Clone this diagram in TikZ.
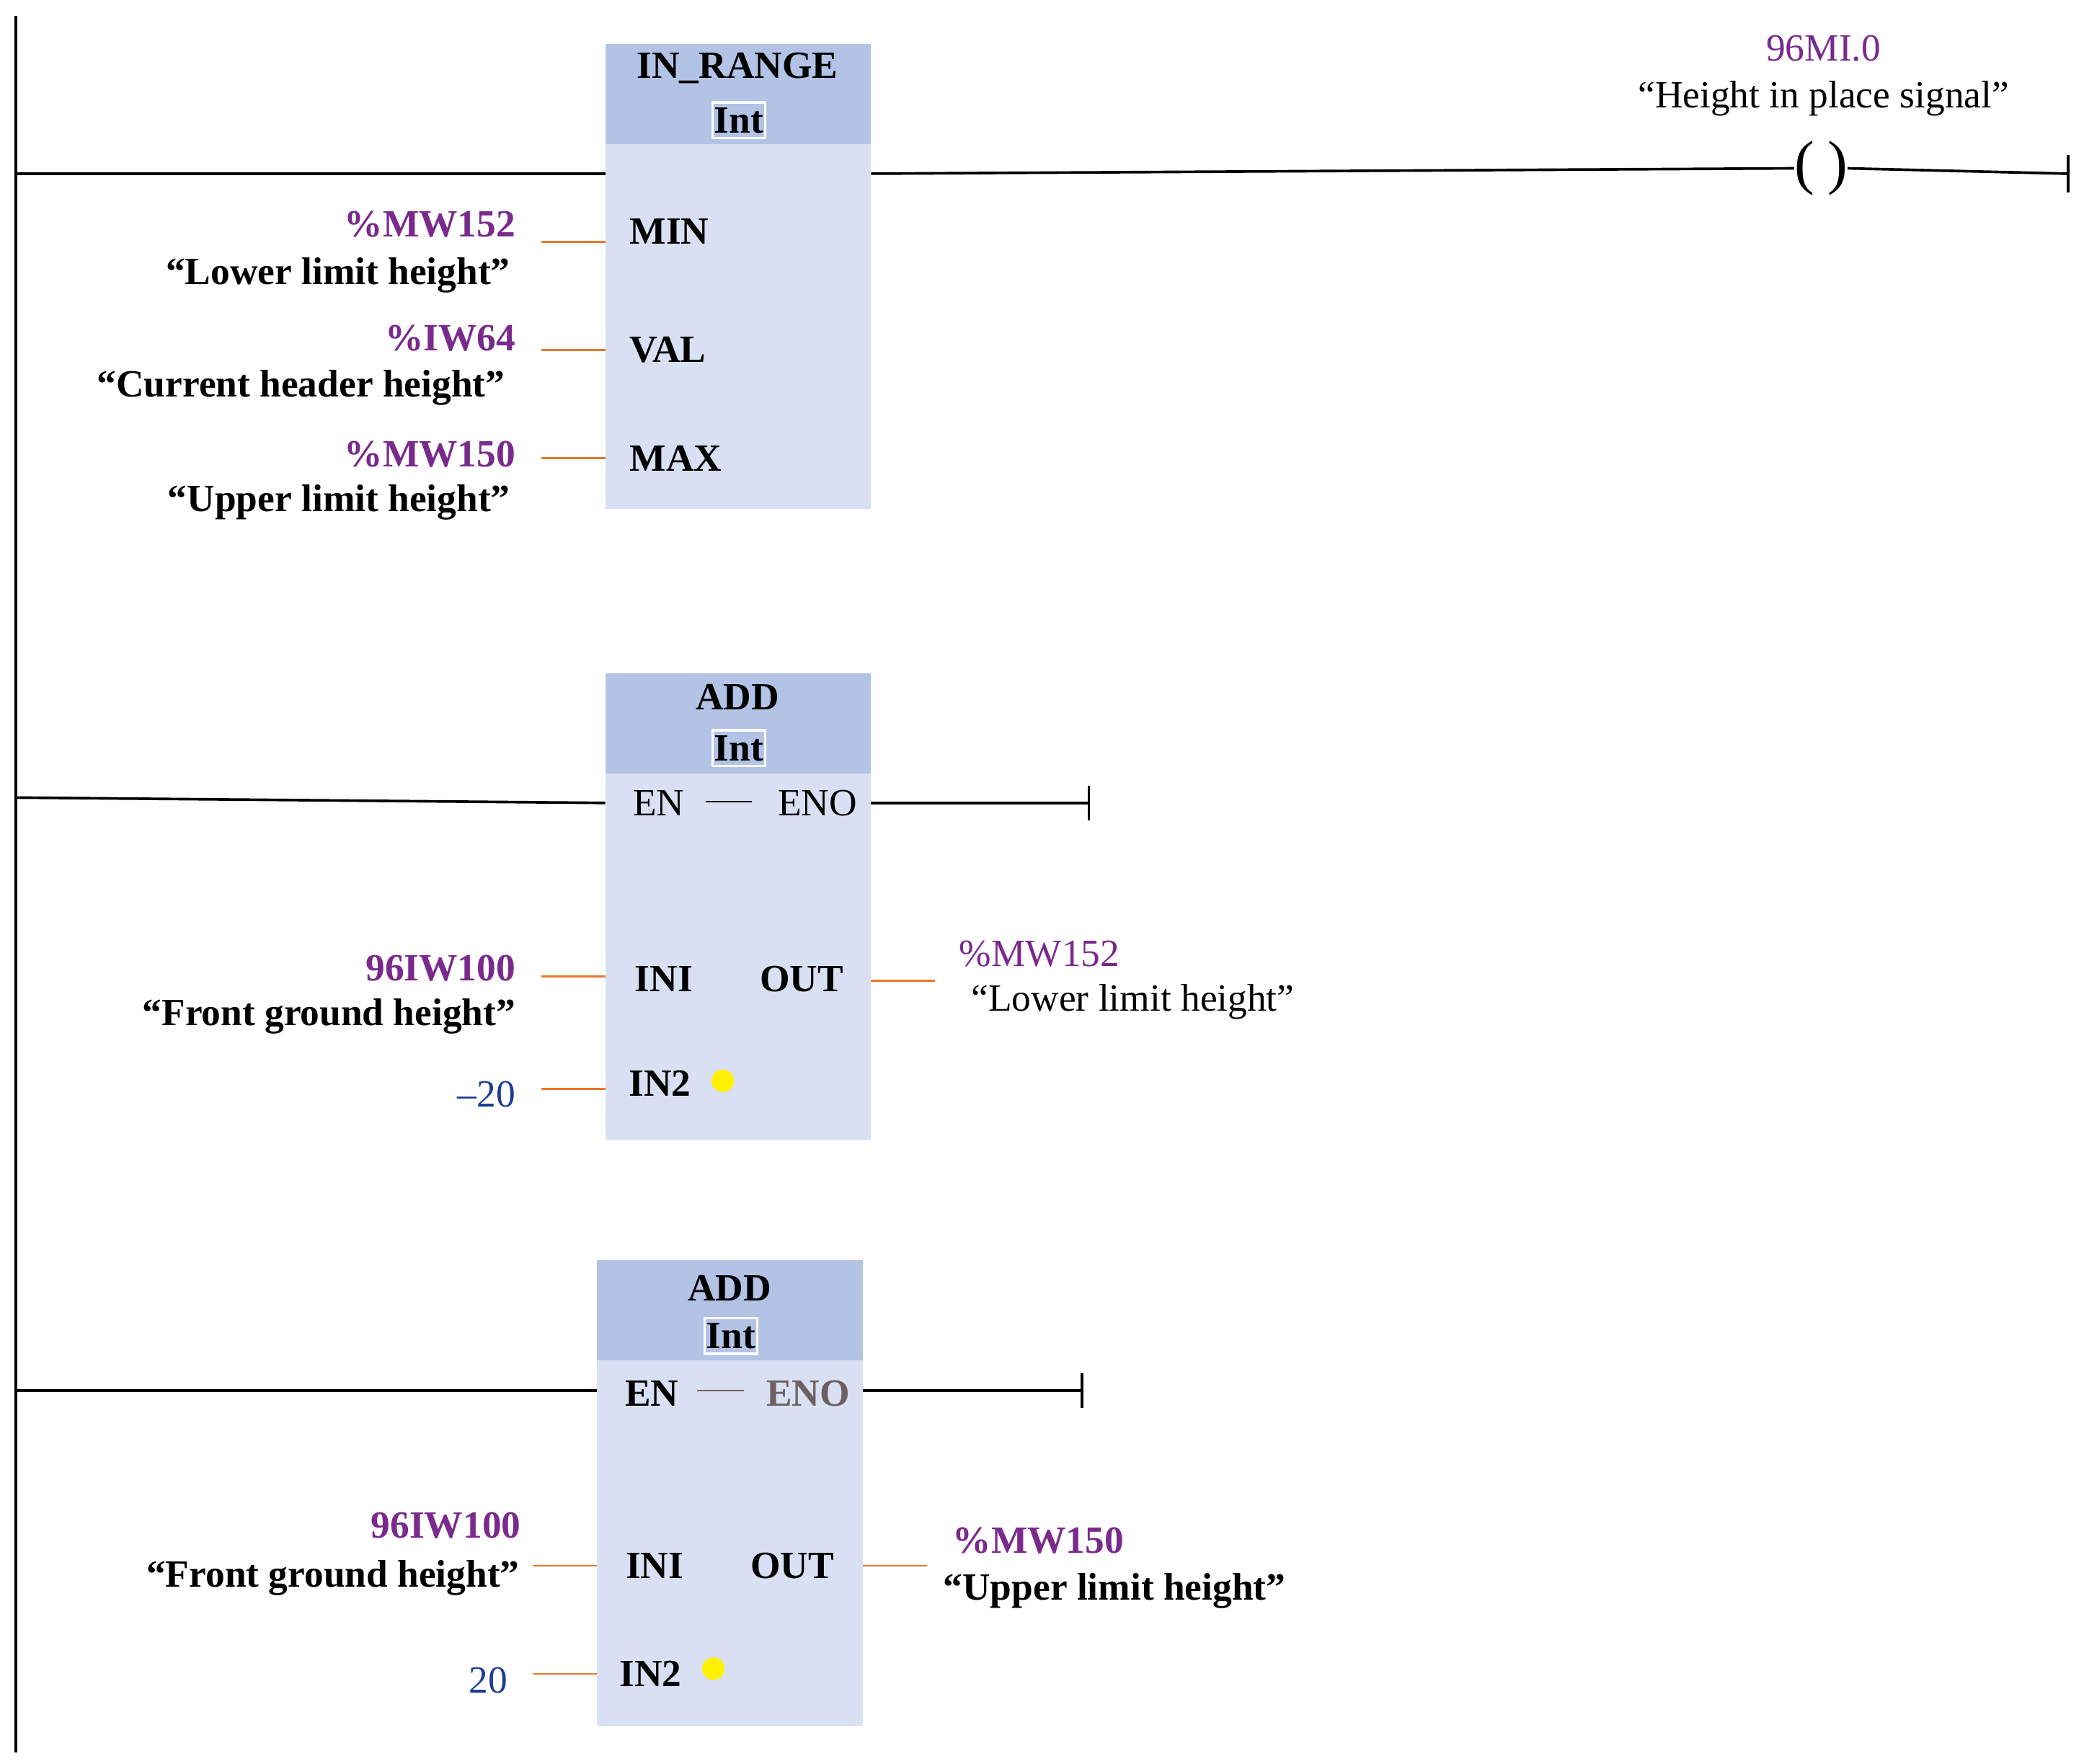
\documentclass[tikz,border=0pt]{standalone}
\usepackage{fontspec}
\setmainfont{Liberation Serif}
\definecolor{hdr}{HTML}{B3C3E6}
\definecolor{bdy}{HTML}{D9E0F3}
\definecolor{pur}{HTML}{7A2A8C}
\definecolor{blu}{HTML}{1F3C96}
\definecolor{org}{HTML}{E8782A}
\definecolor{gry}{HTML}{6E6060}
\begin{document}
\begin{tikzpicture}[x=0.05cm,y=-0.05cm,
  txt/.style={font=\fontsize{41}{45}\selectfont\bfseries,inner sep=0pt},
  ntxt/.style={font=\fontsize{41}{45}\selectfont,inner sep=0pt},
  addr/.style={txt,text=pur},
  naddr/.style={ntxt,text=pur},
  num/.style={ntxt,text=blu},
  wire/.style={line width=2.8pt},
  pin/.style={org,line width=2pt},
  intbox/.style={txt,draw=white,line width=2.5pt,fill=hdr,minimum width=56,minimum height=38,inner sep=0pt},
  dot/.style={circle,fill=yellow,inner sep=0pt,minimum size=24}]
\useasboundingbox[fill=white] (0,0) rectangle (1560,1320);
\draw[wire] (12,12) coordinate (railtop) -- (12,1312) coordinate (railbot);
% block 1
\fill[bdy] (453,33) rectangle (652,381);
\fill[hdr] (453,33) rectangle (652,108);
\node[txt] (b1t) at (552,51) {IN\_RANGE};
\node[intbox] (b1i) at (553,90) {Int};
\node[txt] (min) at (501,173) {MIN};
\node[txt] (val) at (500,262) {VAL};
\node[txt] (max) at (506,343) {MAX};
\coordinate (r1a) at (12,130); \coordinate (b1l) at (453,130);
\coordinate (b1r) at (652,130);
\node[font=\fontsize{64}{70}\selectfont,inner sep=0pt] (coil) at (1363,126) {(\hspace{14pt})};
\coordinate (r1e) at (1548,130);
\draw[wire] (r1a) -- (b1l);
\draw[wire] (b1r) -- (coil.west);
\draw[wire] (coil.east) -- (r1e);
\draw[wire] (1548,116) -- (1548,144);
\node[naddr] (c1) at (1365,36) {96MI.0};
\node[ntxt] (c2) at (1365,74) {“Height in place signal”};
\draw[pin] (405,181) -- (453,181);
\node[addr,anchor=east] (a1) at (386,168) {\%MW152};
\node[txt,anchor=east] (l1) at (382,206) {“Lower limit height”};
\draw[pin] (405,262) -- (453,262);
\node[addr,anchor=east] (a2) at (386,253) {\%IW64};
\node[txt,anchor=east] (l2) at (378,290) {“Current header height”};
\draw[pin] (405,343) -- (453,343);
\node[addr,anchor=east] (a3) at (386,340) {\%MW150};
\node[txt,anchor=east] (l3) at (382,376) {“Upper limit height”};
% block 2
\fill[bdy] (453,504) rectangle (652,853);
\fill[hdr] (453,504) rectangle (652,579);
\node[txt] (b2t) at (552,522) {ADD};
\node[intbox] (b2i) at (553,560) {Int};
\node[ntxt] (en2) at (493,601) {EN};
\node[ntxt] (eno2) at (612,601) {ENO};
\draw[line width=1.8pt] (528,600) -- (563,600);
\draw[wire] (12,597) -- (453,601);
\draw[wire] (652,601) -- (815,601);
\draw[wire] (815,588) -- (815,614);
\node[txt] (ini2) at (497,733) {INI};
\node[txt] (out2) at (600,733) {OUT};
\node[txt] (in22) at (494,811) {IN2};
\node[dot] at (541,809) {};
\draw[pin] (405,731) -- (453,731);
\draw[pin] (405,815) -- (453,815);
\draw[pin] (652,734) -- (700,734);
\node[addr,anchor=east] (a4) at (386,725) {96IW100};
\node[txt,anchor=east] (l4) at (386,761) {“Front ground height”};
\node[num,anchor=east] (n1) at (386,819) {–20};
\node[naddr,anchor=west] (a5) at (718,714) {\%MW152};
\node[ntxt,anchor=west] (l5) at (727,750) {“Lower limit height”};
% block 3
\fill[bdy] (447,943) rectangle (646,1292);
\fill[hdr] (447,943) rectangle (646,1018);
\node[txt] (b3t) at (546,964) {ADD};
\node[intbox] (b3i) at (547,1000) {Int};
\node[txt] (en3) at (488,1043) {EN};
\node[txt,text=gry] (eno3) at (605,1043) {ENO};
\draw[gry,line width=1.8pt] (522,1041) -- (557,1041);
\draw[wire] (12,1041) -- (447,1041);
\draw[wire] (646,1041) -- (810,1041);
\draw[wire] (810,1028) -- (810,1054);
\node[txt] (ini3) at (490,1172) {INI};
\node[txt] (out3) at (593,1172) {OUT};
\node[txt] (in23) at (487,1253) {IN2};
\node[dot] at (534,1249) {};
\draw[pin] (399,1172) -- (447,1172);
\draw[pin] (399,1253) -- (447,1253);
\draw[pin] (646,1172) -- (694,1172);
\node[addr,anchor=east] (a6) at (390,1142) {96IW100};
\node[txt,anchor=east] (l6) at (389,1181) {“Front ground height”};
\node[num,anchor=east] (n2) at (380,1258) {20};
\node[addr,anchor=west] (a7) at (713,1153) {\%MW150};
\node[txt,anchor=west] (l7) at (706,1191) {“Upper limit height”};
\end{tikzpicture}
\end{document}
